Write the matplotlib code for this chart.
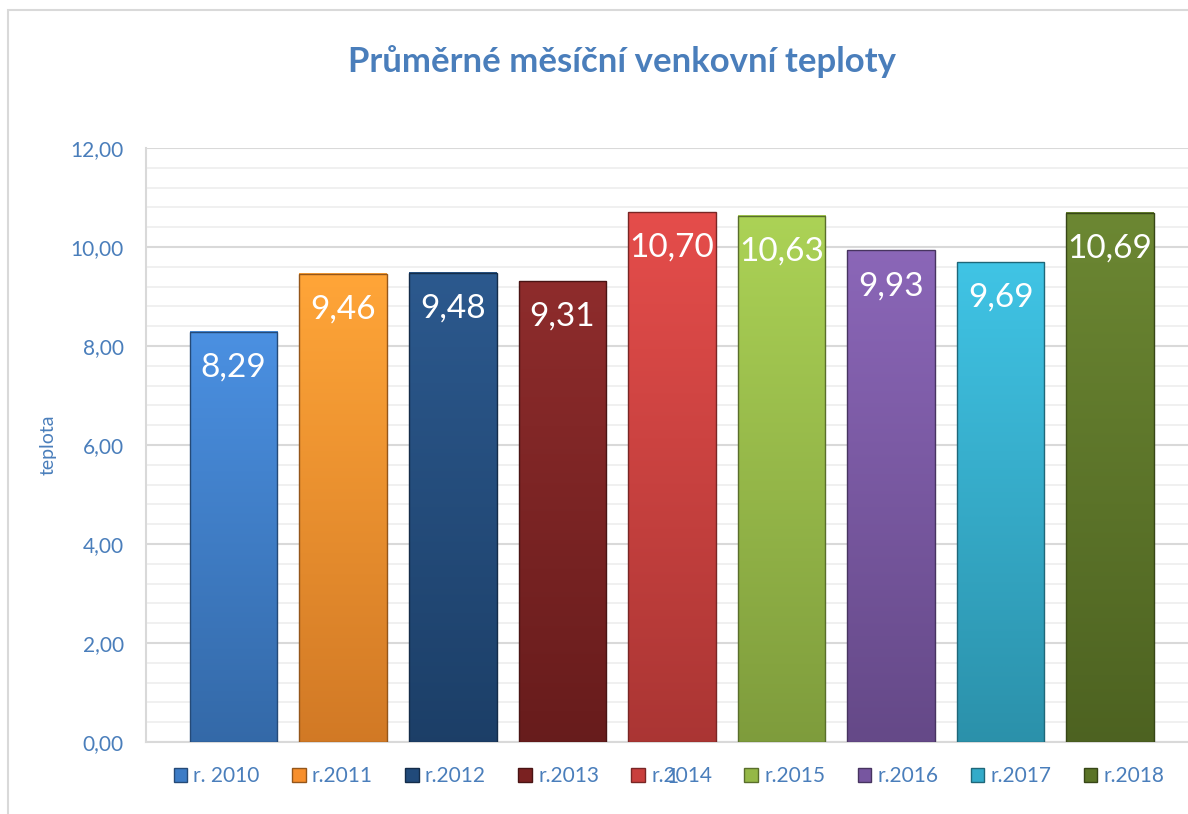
import numpy as np
import matplotlib
matplotlib.use("Agg")
import matplotlib.pyplot as plt
from matplotlib.colors import to_rgb
from matplotlib.patches import Rectangle

plt.rcParams["font.family"] = ["Lato", "DejaVu Sans"]

years = ["r. 2010", "r.2011", "r.2012", "r.2013", "r.2014",
         "r.2015", "r.2016", "r.2017", "r.2018"]
teploty = [8.29, 9.46, 9.48, 9.31, 10.70, 10.63, 9.93, 9.69, 10.69]
colors = ["#3d7cc6", "#f78f2c", "#214a7a", "#7a2121", "#c93f3d",
          "#95b847", "#7756a0", "#33abc9", "#5b7427"]
category = "1"

blue = "#4a7ebb"

fig = plt.figure(figsize=(11.88, 8.14), dpi=100)
# outer chart frame
fig.patches.append(Rectangle((8 / 1188, -0.05), 1.2, 1 - 10 / 814 + 0.05,
                             transform=fig.transFigure, fill=False,
                             edgecolor="#d9d9d9", linewidth=1.5))

ax = fig.add_axes([146 / 1188, 1 - 742 / 814, 1 - 146 / 1188, (742 - 148) / 814])

x = np.arange(len(years))
width = 0.80
bars = ax.bar(x, teploty, width, color=colors, edgecolor="none", zorder=3)

# light vertical gradient on each bar, lighter at top
for b, c in zip(bars, colors):
    rgb = np.array(to_rgb(c))
    top = np.clip(rgb * 1.10 + 0.03, 0, 1)
    bot = rgb * 0.85
    t = np.linspace(0, 1, 64)[:, None]
    grad = (top * (1 - t) + bot * t)[:, None, :]
    x0, h = b.get_x(), b.get_height()
    ax.imshow(grad, extent=(x0, x0 + b.get_width(), 0, h), aspect="auto",
              zorder=3.1, interpolation="bilinear")
    ax.add_patch(Rectangle((x0, 0), b.get_width(), h, fill=False,
                           edgecolor=tuple(rgb * 0.6), linewidth=1.0, zorder=3.2))

ax.set_xlim(-0.80, 8.71)
ax.set_ylim(0, 12)

ax.set_yticks(np.arange(0, 12.01, 2))
ax.set_yticklabels([f"{v:.2f}".replace(".", ",") for v in np.arange(0, 12.01, 2)])
ax.set_yticks(np.arange(0, 12.01, 0.4), minor=True)
ax.grid(axis="y", which="major", color="#d9d9d9", linewidth=1.5, zorder=0)
ax.grid(axis="y", which="minor", color="#ededed", linewidth=1.2, zorder=0)
ax.tick_params(axis="y", which="both", length=0, labelsize=15, labelcolor=blue, pad=16)
ax.set_xticks([4])
ax.set_xticklabels([category])
ax.tick_params(axis="x", length=0, labelsize=15, labelcolor=blue, pad=18)

for s in ["top", "right"]:
    ax.spines[s].set_visible(False)
ax.spines["left"].set_color("#d9d9d9")
ax.spines["bottom"].set_color("#d9d9d9")
ax.spines["left"].set_linewidth(1.5)
ax.spines["bottom"].set_linewidth(1.5)

ax.set_ylabel("teplota", color=blue, fontsize=14, labelpad=10)

for b, v in zip(bars, teploty):
    ax.text(b.get_x() + b.get_width() / 2, v - 0.72, f"{v:.2f}".replace(".", ","),
            ha="center", va="center", color="white", fontsize=24, zorder=4)

fig.text(622 / 1188, 1 - 62 / 814, "Průměrné měsíční venkovní teploty",
         ha="center", va="center", color=blue, fontsize=25, fontweight="bold")

handles = [Rectangle((0, 0), 1, 1, facecolor=c, edgecolor=tuple(np.array(to_rgb(c)) * 0.6))
           for c in colors]
fig.legend(handles, years, loc="center", bbox_to_anchor=(669 / 1188, 1 - 776 / 814),
           ncol=9, frameon=False, fontsize=15, labelcolor=blue,
           handlelength=0.65, handleheight=0.65, handletextpad=0.3, columnspacing=1.55)

fig.savefig("out.png", dpi=100)
